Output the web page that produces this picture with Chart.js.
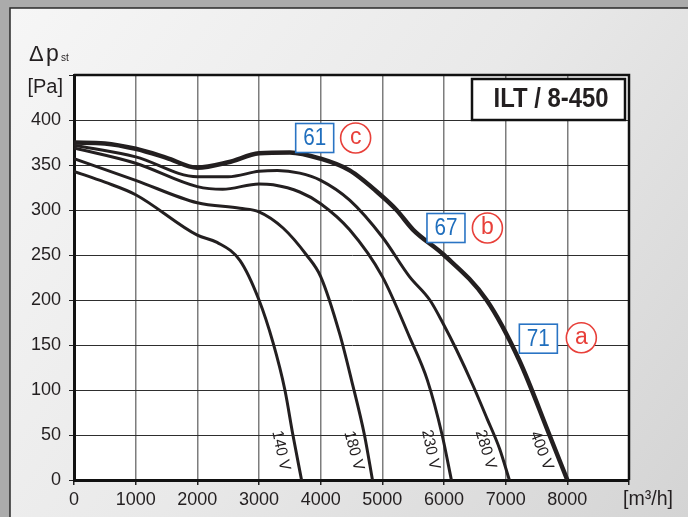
<!DOCTYPE html>
<html><head><meta charset="utf-8">
<script src="https://cdn.jsdelivr.net/npm/chart.js@4"></script>
<style>html,body{margin:0;padding:0;background:#ababab;}canvas{display:block}</style>
</head><body>
<canvas id="c" width="688" height="517"></canvas>
<script>
// ---- data (flow in m3/h, static pressure in Pa) ----
const flow400 = [0, 500, 1000, 1500, 2000, 2500, 3000, 3500, 4000, 4470, 5000, 5230, 5500, 6000, 6690, 7220, 7710, 8000];
const dp400   = [375, 374, 368, 358, 347, 353, 363, 364, 357, 344, 315, 300, 278, 250, 200, 133, 50, 0];
const flow280 = [0, 1000, 2000, 2500, 3000, 3300, 3660, 4000, 4470, 5000, 5440, 5770, 6000, 6200, 6470, 6700, 6900, 7060];
const dp280   = [372, 359, 337, 337, 343, 344, 341, 333, 311, 270, 226, 200, 172, 145, 105, 68, 35, 0];
const flow230 = [0, 1000, 2000, 2410, 3000, 3230, 3660, 4000, 4470, 5000, 5440, 5730, 5970, 6120];
const dp230   = [369, 352, 326, 323, 329, 328, 320, 307, 278, 226, 159, 111, 50, 0];
const flow180 = [0, 1000, 2000, 2690, 3000, 3390, 3770, 4000, 4310, 4500, 4710, 4840];
const dp180   = [357, 333, 308, 302, 298, 280, 250, 226, 162, 111, 50, 0];
const flow140 = [0, 500, 1000, 2000, 2320, 2690, 3000, 3230, 3420, 3550, 3690];
const dp140   = [343, 331, 317, 272, 264, 244, 200, 152, 100, 50, 0];

const voltageLabels = ['140 V', '180 V', '230 V', '280 V', '400 V'];
const voltageLabelFlow = [3368, 4551, 5797, 6688, 7595];
const voltageLabelDp = [33, 33, 34, 34, 33];
const voltageLabelAngle = [78, 75, 78, 73, 69];

const markerNumbers = ['61', '67', '71'];
const markerLetters = ['c', 'b', 'a'];
const markerNumFlow = [3903, 6032, 7530];
const markerNumDp = [380, 280, 157];
const markerLetFlow = [4567, 6704, 8227];
const markerLetDp = [380, 280, 158];

const xTickValues = [0, 1000, 2000, 3000, 4000, 5000, 6000, 7000, 8000];
const yTickValues = [0, 50, 100, 150, 200, 250, 300, 350, 400];
const title = 'ILT / 8-450';

const toPts = (xs, ys) => xs.map((x, i) => ({x, y: ys[i]}));
const INK = '#231f20';
const REG = "'Liberation Sans',Arial,sans-serif";

const frame = {
  id: 'frame',
  beforeDraw(chart) {
    const ctx = chart.ctx, W = chart.width, H = chart.height, a = chart.chartArea;
    ctx.save();
    ctx.fillStyle = '#ababab';
    ctx.fillRect(0, 0, W, H);
    const g = ctx.createLinearGradient(10, 8, W, H);
    g.addColorStop(0, '#f6f6f6');
    g.addColorStop(0.5, '#e9e9e9');
    g.addColorStop(1, '#d4d4d4');
    ctx.fillStyle = g;
    ctx.fillRect(10, 8, W - 10, H - 8);
    ctx.strokeStyle = '#2a2a2a';
    ctx.lineWidth = 1.5;
    ctx.beginPath();
    ctx.moveTo(10, H); ctx.lineTo(10, 8); ctx.lineTo(W, 8);
    ctx.stroke();
    ctx.fillStyle = '#ffffff';
    ctx.fillRect(a.left, a.top, a.right - a.left, a.bottom - a.top);
    ctx.restore();
  },
  afterDraw(chart) {
    const ctx = chart.ctx, a = chart.chartArea;
    const xs = chart.scales.x, ys = chart.scales.y;
    ctx.save();
    // top / right border
    ctx.strokeStyle = '#111';
    ctx.lineWidth = 2.5;
    ctx.beginPath();
    ctx.moveTo(a.left, a.top); ctx.lineTo(a.right, a.top); ctx.lineTo(a.right, a.bottom);
    ctx.stroke();
    // title box
    ctx.fillStyle = '#fff';
    ctx.fillRect(472, 79, 153, 41);
    ctx.lineWidth = 2.5;
    ctx.strokeRect(472, 79, 153, 41);
    ctx.fillStyle = INK;
    ctx.font = "bold 27px " + REG;
    ctx.textAlign = 'center';
    ctx.textBaseline = 'middle';
    ctx.fillText(title, 551, 100, 115);
    // axis titles
    ctx.font = "22px " + REG;
    ctx.textAlign = 'left';
    ctx.textBaseline = 'alphabetic';
    ctx.fillText('\u0394', 29, 61);
    ctx.font = "23px " + REG;
    ctx.fillText('p', 46, 61);
    ctx.font = "10px " + REG;
    ctx.fillText('st', 61, 61);
    ctx.font = "20px " + REG;
    ctx.textAlign = 'right';
    ctx.textBaseline = 'middle';
    ctx.fillText('[Pa]', 63, 87, 36);
    ctx.textAlign = 'center';
    ctx.fillText('[m\u00b3/h]', 648, 499, 50);
    // voltage labels
    ctx.font = "16px " + REG;
    voltageLabels.forEach((t, i) => {
      const px = xs.getPixelForValue(voltageLabelFlow[i]);
      const py = ys.getPixelForValue(voltageLabelDp[i]);
      ctx.save();
      ctx.translate(px, py);
      ctx.rotate(voltageLabelAngle[i] * Math.PI / 180);
      ctx.fillStyle = INK;
      ctx.textAlign = 'center';
      ctx.textBaseline = 'middle';
      ctx.fillText(t, 0, 1, 40);
      ctx.restore();
    });
    // marker boxes and circles
    markerNumbers.forEach((t, i) => {
      const bx = xs.getPixelForValue(markerNumFlow[i]);
      const by = ys.getPixelForValue(markerNumDp[i]);
      ctx.fillStyle = '#fff';
      ctx.fillRect(bx - 19, by - 14.5, 38, 29);
      ctx.strokeStyle = '#2a74c4';
      ctx.lineWidth = 1.6;
      ctx.strokeRect(bx - 19, by - 14.5, 38, 29);
      ctx.fillStyle = '#1f6ebd';
      ctx.font = "23px " + REG;
      ctx.textAlign = 'center';
      ctx.textBaseline = 'middle';
      ctx.fillText(t, bx, by + 1, 23);
      const cx = xs.getPixelForValue(markerLetFlow[i]);
      const cy = ys.getPixelForValue(markerLetDp[i]);
      ctx.beginPath();
      ctx.arc(cx, cy, 15, 0, Math.PI * 2);
      ctx.fillStyle = '#fff';
      ctx.fill();
      ctx.strokeStyle = '#e8403a';
      ctx.lineWidth = 1.6;
      ctx.stroke();
      ctx.fillStyle = '#e8403a';
      ctx.font = "23px " + REG;
      ctx.fillText(markerLetters[i], cx, cy);
    });
    ctx.restore();
  }
};

const lineDs = (label, xs, ys, w) => ({
  label, data: toPts(xs, ys), showLine: true, borderColor: INK, borderWidth: w,
  pointRadius: 0, cubicInterpolationMode: 'monotone', fill: false
});

new Chart(document.getElementById('c'), {
  type: 'scatter',
  data: {
    datasets: [
      lineDs('140 V', flow140, dp140, 3),
      lineDs('180 V', flow180, dp180, 3),
      lineDs('230 V', flow230, dp230, 3),
      lineDs('280 V', flow280, dp280, 3),
      lineDs('400 V', flow400, dp400, 4.5)
    ]
  },
  options: {
    responsive: false,
    devicePixelRatio: 1,
    animation: false,
    layout: {padding: {top: 75, right: 59, left: 0, bottom: 0}},
    plugins: {legend: {display: false}, tooltip: {enabled: false}},
    scales: {
      x: {
        type: 'linear', min: 0, max: 9000,
        afterFit: s => { s.height = 37; },
        afterBuildTicks: s => { s.ticks = xTickValues.concat([9000]).map(v => ({value: v})); },
        ticks: {
          autoSkip: false, maxRotation: 0, padding: 4,
          font: {family: REG, size: 18}, color: INK,
          callback: v => xTickValues.includes(v) ? String(v) : ''
        },
        grid: {color: '#7d7d7d', lineWidth: 1.5, tickColor: '#222', tickLength: 5},
        border: {display: true, color: '#111', width: 3}
      },
      y: {
        type: 'linear', min: 0, max: 450,
        afterFit: s => { s.width = 74; },
        afterBuildTicks: s => { s.ticks = yTickValues.concat([450]).map(v => ({value: v})); },
        ticks: {
          autoSkip: false, padding: 8,
          font: {family: REG, size: 18}, color: INK,
          callback: v => yTickValues.includes(v) ? String(v) : ''
        },
        grid: {color: '#2e2e2e', lineWidth: 1, tickColor: '#222', tickLength: 5},
        border: {display: true, color: '#111', width: 3}
      }
    }
  },
  plugins: [frame]
});
</script>
</body></html>
